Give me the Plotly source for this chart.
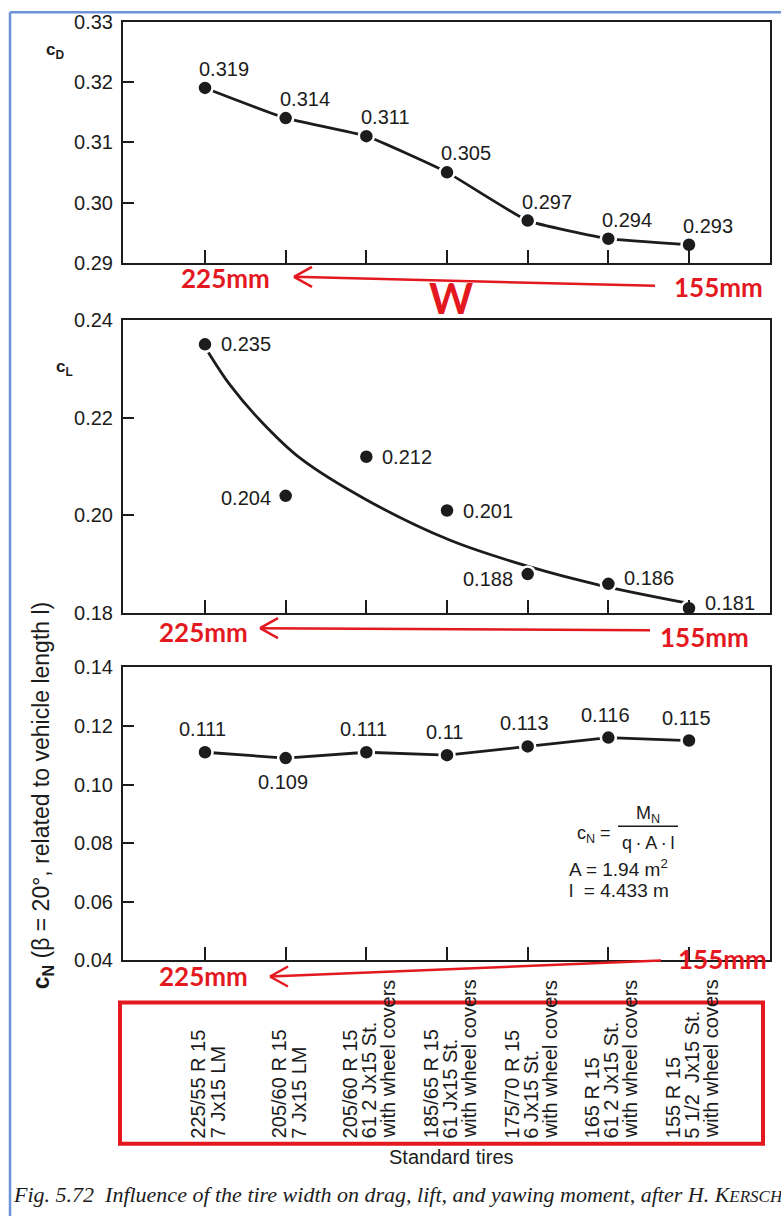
import plotly.graph_objects as go

# ---------------- data ----------------
tire_index = [0, 1, 2, 3, 4, 5, 6]
tire_labels = [
    ["225/55 R 15", "7 Jx15 LM"],
    ["205/60 R 15", "7 Jx15 LM"],
    ["205/60 R 15", "61 2 Jx15 St.", "with wheel covers"],
    ["185/65 R 15", "61 Jx15 St.", "with wheel covers"],
    ["175/70 R 15", "6 Jx15 St.", "with wheel covers"],
    ["165 R 15", "61 2 Jx15 St.", "with wheel covers"],
    ["155 R 15", "5 1/2  Jx15 St.", "with wheel covers"],
]
cd_values = [0.319, 0.314, 0.311, 0.305, 0.297, 0.294, 0.293]
cl_values = [0.235, 0.204, 0.212, 0.201, 0.188, 0.186, 0.181]
cn_values = [0.111, 0.109, 0.111, 0.110, 0.113, 0.116, 0.115]
# fitted lift curve
cl_curve_x = [0.04, 0.31, 0.68, 1.18, 2.01, 3.04, 4.04, 4.90, 6.0]
cl_curve_y = [0.2334, 0.2267, 0.2195, 0.2117, 0.2031, 0.1949, 0.1894, 0.1857, 0.1820]

cd_ticks = [0.29, 0.30, 0.31, 0.32, 0.33]
cl_ticks = [0.18, 0.20, 0.22, 0.24]
cn_ticks = [0.04, 0.06, 0.08, 0.10, 0.12, 0.14]

# ---------------- helpers (pixel -> paper) ----------------
W, H = 781, 1216
def px(x):
    return x / W
def py(y):
    yd = (y - 11.4) / 0.981
    return 1 - max(yd, 1.2) / H

INK = "#1c1c1c"
RED = "#e3191f"
FONT = "Liberation Sans, Arial, sans-serif"
X_RANGE = [(123 - 205) / 80.67, (770 - 205) / 80.67]

fig = go.Figure()

marker = dict(size=15, color=INK, line=dict(color="white", width=2.5))

# top panel: drag
fig.add_trace(go.Scatter(x=tire_index, y=cd_values, mode="lines+markers",
                         line=dict(color=INK, width=2.8, shape="spline", smoothing=0.4),
                         marker=marker, xaxis="x", yaxis="y", hoverinfo="skip"))
# middle panel: lift curve + points
fig.add_trace(go.Scatter(x=cl_curve_x, y=cl_curve_y, mode="lines",
                         line=dict(color=INK, width=2.8, shape="spline", smoothing=1.0),
                         xaxis="x2", yaxis="y2", hoverinfo="skip"))
fig.add_trace(go.Scatter(x=tire_index, y=cl_values, mode="markers",
                         marker=marker, xaxis="x2", yaxis="y2", hoverinfo="skip"))
# bottom panel: yawing moment
fig.add_trace(go.Scatter(x=tire_index, y=cn_values, mode="lines+markers",
                         line=dict(color=INK, width=2.8),
                         marker=marker, xaxis="x3", yaxis="y3", hoverinfo="skip"))

xcommon = dict(range=X_RANGE, tickvals=tire_index, showticklabels=False, ticks="inside",
               ticklen=13, tickwidth=1.5, tickcolor=INK, showline=True, linecolor=INK,
               linewidth=2, mirror=True, showgrid=False, zeroline=False, fixedrange=True)
ycommon = dict(ticks="inside", ticklen=11, tickwidth=1.5, tickcolor=INK, showline=True,
               linecolor=INK, linewidth=2, mirror=True, showgrid=False, zeroline=False,
               tickformat=".2f", tickfont=dict(family=FONT, size=20, color=INK),
               ticklabelstandoff=4, fixedrange=True)

annotations = []

def note(x, y, text, size, color=INK, family=FONT, xanchor="center", yanchor="middle", **kw):
    annotations.append(dict(x=px(x), y=py(y), xref="paper", yref="paper", text=text,
                            showarrow=False, xanchor=xanchor, yanchor=yanchor,
                            font=dict(family=family, size=size, color=color), **kw))

# data labels
for i, v in zip(tire_index, cd_values):
    annotations.append(dict(x=i, y=v, xref="x", yref="y", text=f"{v:g}", showarrow=False,
                            xanchor="center", yanchor="middle", xshift=19, yshift=19,
                            font=dict(family=FONT, size=20, color=INK)))
cl_side = ["right", "left", "right", "right", "left", "right", "right"]
cl_dy = [0, -2, 0, 0, -5, 6, 5]
for i, v, s, dy in zip(tire_index, cl_values, cl_side, cl_dy):
    annotations.append(dict(x=i, y=v, xref="x2", yref="y2", text=f"{v:g}", showarrow=False,
                            xanchor="left" if s == "right" else "right", yanchor="middle",
                            xshift=14 if s == "right" else -13, yshift=dy,
                            font=dict(family=FONT, size=20, color=INK)))
cn_side = ["above", "below", "above", "above", "above", "above", "above"]
for i, v, s in zip(tire_index, cn_values, cn_side):
    annotations.append(dict(x=i, y=v, xref="x3", yref="y3", text=f"{v:g}", showarrow=False,
                            xanchor="center", yanchor="middle", xshift=-3,
                            yshift=23 if s == "above" else -24,
                            font=dict(family=FONT, size=20, color=INK)))

# category labels (rotated, bottom aligned)
for i, lines in zip(tire_index, tire_labels):
    n = len(lines)
    for j, line in enumerate(lines):
        annotations.append(dict(x=i, y=py(1140), xref="x3", yref="paper", text=line,
                                showarrow=False, textangle=-90, xanchor="center",
                                yanchor="bottom", xshift=(j - (n - 1) / 2) * 19 + 3,
                                font=dict(family=FONT, size=20, color=INK)))

note(451, 1156, "Standard tires", 20)

# axis titles
note(55, 51, "<b>c<sub>D</sub></b>", 17)
note(64, 368, "<b>c<sub>L</sub></b>", 17)
note(42, 795, "<b>c<sub>N</sub></b> (β = 20°, related to vehicle length l)", 23, textangle=-90)

# formula
note(594, 834, "c<sub>N</sub> =", 18)
note(648, 814, "M<sub>N</sub>", 18)
note(648, 843, "q\u2009·\u2009A\u2009·\u2009l", 18)
note(567, 868, "A = 1.94 m<sup>2</sup>", 19, xanchor="left")
note(567, 890, "l\u00a0\u00a0= 4.433 m", 19, xanchor="left")

# red annotations
RFONT = "Lato, Open Sans, sans-serif"
for (x, y, t, s) in [(225, 278, "225mm", 26), (718, 287, "155mm", 26), (451, 298, "W", 42),
                     (203, 632, "225mm", 26), (704, 637, "155mm", 26),
                     (203, 976, "225mm", 26), (722, 959, "155mm", 26)]:
    note(x, y, f"<b>{t}</b>", s, color=RED, family=RFONT)

# caption
note(11, 1194,
     "<i>Fig. 5.72\u00a0\u00a0Influence of the tire width on drag, lift, "
     "and yawing moment, after H. K<span style='font-size:17px'>ERSCH</span></i>",
     22, family="Liberation Serif, Times New Roman, serif", xanchor="left")

# shapes
shapes = []
def seg(x0, y0, x1, y1, color, width):
    shapes.append(dict(type="line", xref="paper", yref="paper", x0=px(x0), y0=py(y0),
                       x1=px(x1), y1=py(y1), line=dict(color=color, width=width), layer="above"))

# fraction bar
seg(618, 826, 678, 826, INK, 1.5)
# arrows (tail -> tip, with open head)
for (tx, ty, hx, hy) in [(655, 286, 294, 277), (650, 630, 260, 628), (661, 960, 270, 976)]:
    seg(tx, ty, hx, hy, RED, 2.5)
    seg(hx, hy, hx + 18, hy - 10, RED, 2.5)
    seg(hx, hy, hx + 18, hy + 10, RED, 2.5)
# red box
shapes.append(dict(type="rect", xref="paper", yref="paper", x0=px(120), x1=px(763),
                   y0=py(1143), y1=py(1002), line=dict(color=RED, width=4), layer="above"))
# blue frame (top and left)
seg(10, 5, 781, 5, "#6b93d6", 2.5)
seg(10, 5, 10, 1216, "#6b93d6", 2.5)

fig.update_layout(
    width=W, height=H, margin=dict(l=0, r=0, t=0, b=0),
    paper_bgcolor="white", plot_bgcolor="rgba(0,0,0,0)", showlegend=False,
    xaxis=dict(domain=[px(123), px(770)], anchor="y", **xcommon),
    xaxis2=dict(domain=[px(123), px(770)], anchor="y2", **xcommon),
    xaxis3=dict(domain=[px(123), px(770)], anchor="y3", **xcommon),
    yaxis=dict(domain=[py(263), py(22)], range=[0.29, 0.33], tickvals=cd_ticks, anchor="x", **ycommon),
    yaxis2=dict(domain=[py(613), py(320)], range=[0.18, 0.24], tickvals=cl_ticks, anchor="x2", **ycommon),
    yaxis3=dict(domain=[py(960), py(667)], range=[0.04, 0.14], tickvals=cn_ticks, anchor="x3", **ycommon),
    annotations=annotations, shapes=shapes,
)

fig.write_html("out.html", config={"displayModeBar": False},
               post_script="document.body.style.margin='0';document.body.style.overflow='hidden';")
